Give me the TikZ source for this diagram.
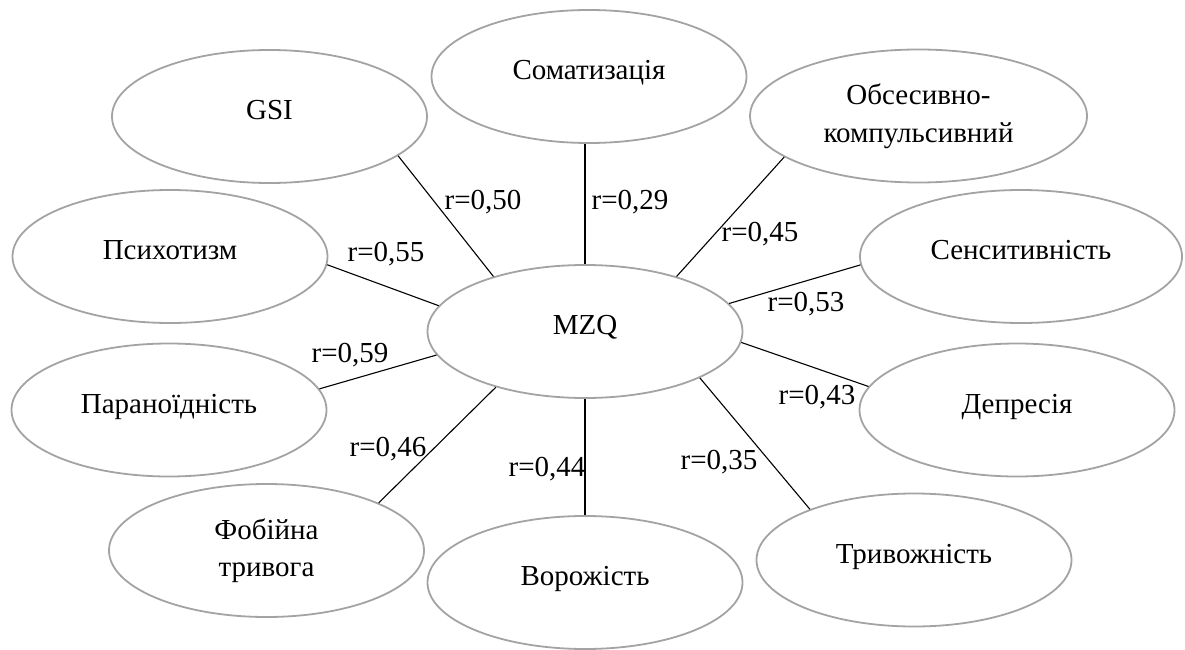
\documentclass[tikz,border=0pt]{standalone}
\usepackage{fontspec}
\setmainfont{Liberation Serif}
\newfontfamily\tnr{Liberation Serif}
\usetikzlibrary{shapes.geometric}
\definecolor{ellgray}{HTML}{A3A3A3}
\tikzset{
  oval/.style={ellipse, draw=ellgray, line width=1.8pt, inner sep=0pt,
    minimum width=315pt, minimum height=133pt,
    font=\tnr\fontsize{29}{37}\selectfont},
  one/.style={text height=0.66em, text depth=0pt},
  two/.style={align=center, yshift=0pt},
  link/.style={draw=black, line width=1.1pt},
  lbl/.style={inner sep=0pt, anchor=base, font=\tnr\fontsize{29}{37}\selectfont}
}
\begin{document}
\begin{tikzpicture}[x=1pt, y=-1pt]
\useasboundingbox (0,0) rectangle (1185,650);
% nodes
\node[oval, one] (mzq) at (585,331.5) {MZQ};
\node[oval, one] (soma) at (589,76.5) {Соматизація};
\node[oval, one] (gsi) at (269.5,116.5) {GSI};
\node[oval, two, minimum width=337pt] (obs) at (918.5,116) {Обсесивно-\\[1pt]компульсивний};
\node[oval, one] (psy) at (170,256.5) {Психотизм};
\node[oval, one, minimum width=322pt] (sen) at (1021,256.5) {Сенситивність};
\node[oval, one] (par) at (169,410) {Параноїдність};
\node[oval, one] (dep) at (1017,410) {Депресія};
\node[oval, two] (fob) at (266.5,550.5) {Фобійна\\тривога};
\node[oval, one] (vor) at (585,582.5) {Ворожість};
\node[oval, one] (tri) at (914,560) {Тривожність};
% connectors
\draw[link] (gsi.-17.9) -- (mzq.149);
\draw[link] (mzq.north) -- (mzq.north |- soma.south);
\draw[link] (obs.-163.7) -- (mzq.31.4);
\draw[link] (sen.183.4) -- (mzq.11.6);
\draw[link] (dep.171.6) -- (mzq.-4.6);
\draw[link] (tri.154.1) -- (mzq.-22.7);
\draw[link] (mzq.south) -- (mzq.south |- vor.north);
\draw[link] (fob.23.6) -- (mzq.-148.8);
\draw[link] (par.8.3) -- (mzq.-171.5);
\draw[link] (psy.-3.5) -- (mzq.170.3);
% labels
\node[lbl] (l50) at (483,209) {r=0,50};
\node[lbl] (l29) at (630,209) {r=0,29};
\node[lbl] (l45) at (760,241) {r=0,45};
\node[lbl] (l53) at (806,311) {r=0,53};
\node[lbl] (l43) at (817,404) {r=0,43};
\node[lbl] (l35) at (719,469) {r=0,35};
\node[lbl] (l44) at (547,476) {r=0,44};
\node[lbl] (l46) at (388,456) {r=0,46};
\node[lbl] (l59) at (350,362) {r=0,59};
\node[lbl] (l55) at (386,261) {r=0,55};
\end{tikzpicture}
\end{document}
